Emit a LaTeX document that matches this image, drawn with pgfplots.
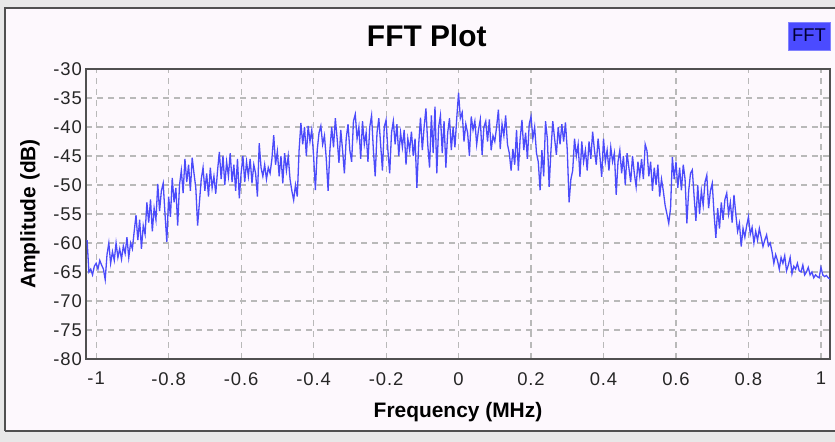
\documentclass[border=0pt]{standalone}
\usepackage{fontspec}
\setmainfont{Liberation Sans}
\newfontfamily\tickfont[LetterSpace=5]{Liberation Sans}
\usepackage{pgfplots}
\pgfplotsset{compat=1.18}
\definecolor{panel}{RGB}{253,248,253}
\definecolor{outer}{RGB}{232,232,232}
\definecolor{frameline}{RGB}{80,80,80}
\definecolor{trace}{RGB}{75,75,250}
\definecolor{legblue}{RGB}{75,75,255}
\definecolor{gridc}{RGB}{185,185,185}
\begin{document}
\begin{tikzpicture}[x=1bp,y=1bp]
\fill[outer] (0,0) rectangle (835,442);
\fill[panel] (5,11) rectangle (845,434);
\draw[frameline, line width=1.6bp] (5,11) -- (5,434) -- (845,434);
\draw[frameline, line width=1.6bp] (5,11) -- (845,11);
\begin{axis}[
  at={(86bp,83bp)}, anchor=south west,
  scale only axis, width=744bp, height=290bp,
  xmin=-1.028, xmax=1.025, ymin=-80, ymax=-30,
  xtick={-1,-0.8,-0.6,-0.4,-0.2,0,0.2,0.4,0.6,0.8,1},
  xticklabels={-1,-0.8,-0.6,-0.4,-0.2,0,0.2,0.4,0.6,0.8,1},
  ytick={-80,-75,-70,-65,-60,-55,-50,-45,-40,-35,-30},
  yticklabels={-80,-75,-70,-65,-60,-55,-50,-45,-40,-35,-30},
  tick style={draw=none},
  grid=major,
  major grid style={gridc, line width=1.1bp, dash pattern=on 6bp off 5bp},
  axis line style={frameline, line width=1.4bp},
  axis background/.style={fill=panel},
  ticklabel style={font=\tickfont\fontsize{18.5}{20}\selectfont, text=black!85, inner sep=0pt},
  xticklabel style={anchor=north, yshift=-13bp},
  yticklabel style={anchor=east, xshift=-4bp},
  xlabel={Frequency (MHz)},
  ylabel={Amplitude (dB)},
  xlabel style={font=\fontsize{21}{23}\selectfont\bfseries, at={(axis description cs:0.5,0)}, anchor=north, yshift=-43bp, inner sep=0pt},
  ylabel style={font=\fontsize{21}{23}\selectfont\bfseries, at={(axis description cs:0,0.5)}, anchor=south, yshift=46bp, inner sep=0pt},
  title={FFT Plot},
  title style={font=\fontsize{30}{32}\selectfont\bfseries, at={(axis description cs:0.458,1)}, anchor=base, yshift=17bp, inner sep=0pt},
  legend image code/.code={},
  legend style={at={(axis description cs:1.0,1.162)}, anchor=north east, fill=legblue, draw=legblue!70, font=\fontsize{18.5}{20}\selectfont, text=black!80!blue, inner xsep=2bp, inner ysep=5bp, column sep=0pt},
]
\addplot[trace, line width=1.3bp, mark=none] coordinates {
(-1.025,-59.5)(-1.02,-65)(-1.015,-64.5)(-1.01,-65.5)(-1.005,-64)
(-1.0,-63.5)(-0.995,-64.5)(-0.99,-63)(-0.985,-63.8)(-0.98,-64.5)(-0.975,-66.3)(-0.97,-62)(-0.965,-60)(-0.96,-63.5)(-0.955,-61.5)
(-0.95,-63)(-0.945,-60)(-0.94,-62.5)(-0.935,-61)(-0.93,-62.8)(-0.925,-60.5)(-0.92,-61.8)(-0.915,-59)(-0.91,-62.5)(-0.905,-60)
(-0.9,-61)(-0.895,-58)(-0.89,-55.2)(-0.885,-59.5)(-0.88,-56)(-0.875,-61)(-0.87,-57)(-0.865,-58.5)(-0.86,-53)(-0.855,-56.5)
(-0.85,-52.5)(-0.845,-58)(-0.84,-54)(-0.835,-56)(-0.83,-49.8)(-0.825,-54.5)(-0.82,-51)(-0.815,-49.7)(-0.81,-55)(-0.805,-59.8)
(-0.8,-52)(-0.795,-55.5)(-0.79,-48.8)(-0.785,-53)(-0.78,-50.5)(-0.775,-57)(-0.77,-50)(-0.765,-47.5)(-0.76,-51.4)(-0.755,-45.5)
(-0.75,-49.5)(-0.745,-46.5)(-0.74,-51)(-0.735,-45.3)(-0.73,-48)(-0.725,-50.5)(-0.72,-57)(-0.715,-53)(-0.71,-49)(-0.705,-47)
(-0.7,-51)(-0.695,-48)(-0.69,-52)(-0.685,-47)(-0.68,-50.5)(-0.675,-48.5)(-0.67,-51.5)(-0.665,-47.5)(-0.66,-44.3)(-0.655,-49)
(-0.65,-45)(-0.645,-50)(-0.64,-46)(-0.635,-48.5)(-0.63,-44.5)(-0.625,-49.5)(-0.62,-46.5)(-0.615,-51)(-0.61,-45.5)(-0.605,-52.3)
(-0.6,-48)(-0.595,-45)(-0.59,-49.5)(-0.585,-46)(-0.58,-48.5)(-0.575,-45.5)(-0.57,-49.7)(-0.565,-46.5)(-0.56,-48)(-0.555,-52)
(-0.55,-42.8)(-0.545,-47)(-0.54,-48.5)(-0.535,-46.5)(-0.53,-49)(-0.525,-47)(-0.52,-48)(-0.515,-45.5)(-0.51,-41.4)(-0.505,-46.5)
(-0.5,-44.2)(-0.495,-48.5)(-0.49,-45)(-0.485,-49.7)(-0.48,-44.5)(-0.475,-47.5)(-0.47,-45)(-0.465,-49)(-0.46,-51)(-0.455,-52.6)
(-0.45,-50)(-0.445,-52)(-0.44,-44)(-0.435,-39.3)(-0.43,-43)(-0.425,-40)(-0.42,-45)(-0.415,-39.8)(-0.41,-42.5)(-0.405,-40.5)
(-0.4,-45)(-0.395,-50.9)(-0.39,-44)(-0.385,-41)(-0.38,-39.8)(-0.375,-43)(-0.37,-41.5)(-0.365,-45.5)(-0.36,-51)(-0.355,-44)
(-0.35,-40)(-0.345,-43.5)(-0.34,-38.5)(-0.335,-42)(-0.33,-46.2)(-0.325,-40.5)(-0.32,-44)(-0.315,-48)(-0.31,-42)(-0.305,-39.5)
(-0.3,-44)(-0.295,-46)(-0.29,-39)(-0.285,-37.8)(-0.28,-42)(-0.275,-40)(-0.27,-45.5)(-0.265,-39)(-0.26,-43)(-0.255,-41)
(-0.25,-46)(-0.245,-40)(-0.24,-38)(-0.235,-44)(-0.23,-48.5)(-0.225,-41)(-0.22,-38.5)(-0.215,-43)(-0.21,-47.5)(-0.205,-40)
(-0.2,-38.8)(-0.195,-44)(-0.19,-48)(-0.185,-41)(-0.18,-39)(-0.175,-43)(-0.17,-39.5)(-0.165,-45)(-0.16,-41)(-0.155,-43.5)
(-0.15,-40.5)(-0.145,-46.5)(-0.14,-42)(-0.135,-44)(-0.13,-40.8)(-0.125,-45)(-0.12,-42)(-0.115,-50.5)(-0.11,-43)(-0.105,-38.4)
(-0.1,-44)(-0.095,-40)(-0.09,-36.8)(-0.085,-43)(-0.08,-47)(-0.075,-38)(-0.07,-44.5)(-0.065,-36.5)(-0.06,-48)(-0.055,-40)
(-0.05,-38)(-0.045,-44.5)(-0.04,-39)(-0.035,-47)(-0.03,-41)(-0.025,-38.5)(-0.02,-44)(-0.015,-40)(-0.01,-43.5)(-0.005,-38.5)
(0,-34.1)(0.005,-38.5)(0.01,-37.5)(0.015,-42.5)(0.02,-39.5)(0.025,-41)(0.03,-45)(0.035,-38.2)(0.04,-40.5)(0.045,-39)
(0.05,-43)(0.055,-40.5)(0.06,-38.7)(0.065,-44.8)(0.07,-40)(0.075,-39)(0.08,-42.5)(0.085,-38.7)(0.09,-44)(0.095,-41.5)
(0.1,-42.5)(0.105,-40)(0.11,-37)(0.115,-43.8)(0.12,-39.5)(0.125,-41.5)(0.13,-38)(0.135,-43)(0.14,-44.5)(0.145,-47.5)
(0.15,-43.8)(0.155,-46.5)(0.16,-40.5)(0.165,-47.5)(0.17,-42)(0.175,-38.8)(0.18,-44)(0.185,-41)(0.19,-45.5)(0.195,-39.5)
(0.2,-38.2)(0.205,-42)(0.21,-40)(0.215,-44.5)(0.22,-46)(0.225,-50.9)(0.23,-44)(0.235,-48.5)(0.24,-39)(0.245,-42)
(0.25,-50.3)(0.255,-44)(0.26,-39)(0.265,-42)(0.27,-44.8)(0.275,-40)(0.28,-43)(0.285,-39.5)(0.29,-42.5)(0.295,-39.2)
(0.3,-44)(0.305,-53)(0.31,-49)(0.315,-47.5)(0.32,-42)(0.325,-45)(0.33,-43)(0.335,-48.6)(0.34,-42.5)(0.345,-46)
(0.35,-44)(0.355,-47.5)(0.36,-42.5)(0.365,-45.5)(0.37,-40.8)(0.375,-44)(0.38,-46.5)(0.385,-42)(0.39,-45)(0.395,-48.6)
(0.4,-42)(0.405,-46)(0.41,-44)(0.415,-47.5)(0.42,-43.5)(0.425,-46)(0.43,-44.5)(0.435,-51.7)(0.44,-46)(0.445,-44)
(0.45,-48)(0.455,-45)(0.46,-50)(0.465,-44.5)(0.47,-47)(0.475,-49.5)(0.48,-45)(0.485,-48)(0.49,-50.3)(0.495,-46)
(0.5,-48.5)(0.505,-45.5)(0.51,-49)(0.515,-43)(0.52,-44.1)(0.525,-48.5)(0.53,-46)(0.535,-51)(0.54,-47)(0.545,-50)
(0.55,-46.5)(0.555,-52)(0.56,-49)(0.565,-51)(0.57,-53.5)(0.575,-55)(0.58,-56.6)(0.585,-54)(0.59,-45.2)(0.595,-49)
(0.6,-46)(0.605,-50.5)(0.61,-47)(0.615,-50.9)(0.62,-46.5)(0.625,-49)(0.63,-56.6)(0.635,-51)(0.64,-48)(0.645,-47.4)
(0.65,-52)(0.655,-56.2)(0.66,-50)(0.665,-55)(0.67,-51)(0.675,-53.5)(0.68,-49.5)(0.685,-48.3)(0.69,-54)(0.695,-51)
(0.7,-49.7)(0.705,-55)(0.71,-59.1)(0.715,-54)(0.72,-57.5)(0.725,-53)(0.73,-56)(0.735,-52.5)(0.74,-51.4)(0.745,-55)
(0.75,-53)(0.755,-56.5)(0.76,-51.7)(0.765,-55)(0.77,-58)(0.775,-56.6)(0.78,-60.6)(0.785,-57.5)(0.79,-59)(0.795,-57)
(0.8,-55.5)(0.805,-58.5)(0.81,-57.3)(0.815,-60)(0.82,-58)(0.825,-59.5)(0.83,-57.5)(0.835,-59)(0.84,-60.6)(0.845,-59.5)
(0.85,-58.6)(0.855,-60.5)(0.86,-60)(0.865,-61.5)(0.87,-63.5)(0.875,-62)(0.88,-63)(0.885,-64.5)(0.89,-62.5)(0.895,-63.5)
(0.9,-62.2)(0.905,-64.8)(0.91,-63.8)(0.915,-62.5)(0.92,-65.3)(0.925,-64)(0.93,-64.5)(0.935,-63.5)(0.94,-64.8)(0.945,-65)
(0.95,-63.8)(0.955,-65.5)(0.96,-65)(0.965,-64.2)(0.97,-65.5)(0.975,-65)(0.98,-66)(0.985,-65.5)(0.99,-65.8)(0.995,-66)
(1.0,-64.2)(1.005,-65.5)(1.01,-65.8)(1.015,-65.6)(1.02,-66)(1.025,-66.2)
};
\addlegendentry{FFT}
\end{axis}
\pgfresetboundingbox
\useasboundingbox (0,0) rectangle (835,442);
\end{tikzpicture}
\end{document}
